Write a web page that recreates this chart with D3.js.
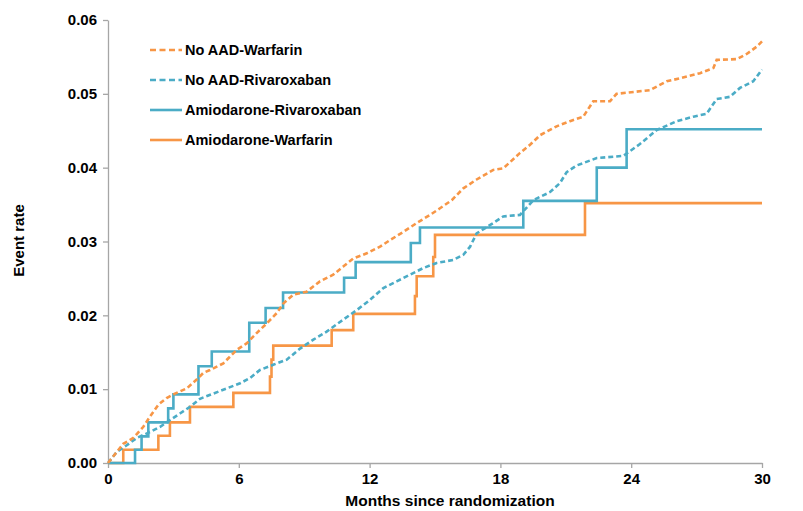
<!DOCTYPE html>
<html>
<head>
<meta charset="utf-8">
<script src="https://cdn.jsdelivr.net/npm/d3@7"></script>
<style>
  body { margin: 0; background: white; }
  text { font-family: "Liberation Sans", Arial, sans-serif; font-weight: bold; }
</style>
</head>
<body>
<div id="viz-container"></div>
<script>
// tick labels
let xTicks = [0, 6, 12, 18, 24, 30];
let yTicks = [0, 0.01, 0.02, 0.03, 0.04, 0.05, 0.06];

// series names (legend order)
let seriesNames = ["No AAD-Warfarin", "No AAD-Rivaroxaban", "Amiodarone-Rivaroxaban", "Amiodarone-Warfarin"];

// No AAD-Warfarin
let noAadWarfMonths = [0, 0.70, 1.16, 1.62, 1.93, 2.31, 2.69, 3.07, 3.61, 4.07, 4.37, 4.68, 5.29, 5.90, 6.36, 6.82, 7.28, 7.74, 8.04, 8.50, 9.11, 9.72, 10.33, 10.79, 11.25, 11.87, 12.48, 12.94, 13.55, 14.16, 14.77, 15.23, 15.77, 16.30, 16.91, 17.67, 18.13, 18.90, 19.36, 19.82, 20.58, 21.19, 21.80, 22.26, 23.03, 23.33, 24.25, 24.86, 25.63, 26.24, 27.16, 27.77, 27.92, 28.84, 29.30, 29.76, 30];
let noAadWarfRates = [0, 0.0026, 0.0034, 0.0049, 0.0063, 0.0079, 0.0088, 0.0094, 0.0101, 0.0113, 0.0122, 0.0126, 0.0135, 0.0153, 0.0162, 0.0176, 0.0189, 0.0203, 0.0216, 0.0228, 0.0232, 0.0246, 0.0255, 0.0266, 0.0277, 0.0284, 0.0293, 0.0302, 0.0313, 0.0325, 0.0336, 0.0345, 0.0356, 0.0372, 0.0384, 0.0397, 0.0399, 0.0420, 0.0431, 0.0444, 0.0456, 0.0463, 0.0469, 0.0490, 0.0490, 0.0500, 0.0503, 0.0505, 0.0517, 0.0521, 0.0528, 0.0535, 0.0546, 0.0547, 0.0554, 0.0564, 0.0571];

// No AAD-Rivaroxaban
let noAadRivMonths = [0, 0.06, 0.40, 0.86, 1.32, 1.93, 2.39, 2.84, 3.30, 3.76, 4.22, 4.83, 5.44, 6.06, 6.51, 6.97, 7.58, 8.20, 8.81, 9.42, 10.03, 10.64, 11.41, 12.02, 12.63, 13.24, 13.85, 14.46, 15.08, 15.84, 16.30, 16.61, 16.91, 17.67, 18.13, 18.90, 19.51, 20.28, 20.73, 21.04, 21.50, 22.42, 23.64, 24.40, 25.17, 26.09, 26.85, 27.46, 27.92, 28.53, 28.99, 29.60, 30];
let noAadRivRates = [0, 0.0002, 0.0015, 0.0024, 0.0034, 0.0042, 0.0049, 0.0058, 0.0067, 0.0076, 0.0087, 0.0094, 0.0101, 0.0108, 0.0115, 0.0126, 0.0133, 0.0140, 0.0155, 0.0167, 0.0178, 0.0191, 0.0207, 0.0221, 0.0237, 0.0246, 0.0255, 0.0264, 0.0271, 0.0275, 0.0282, 0.0293, 0.0311, 0.0325, 0.0334, 0.0336, 0.0356, 0.0367, 0.0379, 0.0394, 0.0403, 0.0413, 0.0416, 0.0432, 0.0451, 0.0463, 0.0469, 0.0473, 0.0493, 0.0496, 0.0508, 0.0517, 0.0533];

// Amiodarone-Rivaroxaban (step)
let amioRivMonths = [0, 1.24, 1.54, 1.85, 2.76, 3.00, 4.15, 4.76, 6.48, 7.23, 8.03, 10.83, 11.36, 13.89, 14.31, 19.05, 22.42, 23.79, 30];
let amioRivRates = [0, 0.0018, 0.0036, 0.0055, 0.0074, 0.0093, 0.0131, 0.0151, 0.0190, 0.0210, 0.0231, 0.0251, 0.0272, 0.0298, 0.0319, 0.0355, 0.0400, 0.0452, 0.0452];

// Amiodarone-Warfarin (step)
let amioWarfMonths = [0, 0.70, 2.31, 2.84, 3.76, 5.75, 7.43, 7.50, 7.58, 10.26, 11.25, 14.08, 14.16, 14.92, 15.00, 21.88, 30];
let amioWarfRates = [0, 0.0018, 0.0037, 0.0055, 0.0076, 0.0095, 0.0117, 0.0140, 0.0159, 0.0180, 0.0202, 0.0226, 0.0253, 0.0279, 0.0309, 0.0352, 0.0352];

let orange = "#F79646";
let blue = "#4BACC6";

let w = 803;
let h = 511;
let margin = {top: 20, right: 41, bottom: 48, left: 108};

let viz = d3.select("#viz-container")
                .append("svg")
                    .attr("id", "viz")
                    .attr("width", w)
                    .attr("height", h)
                    .style("background-color", "white")
;

let xScale = d3.scaleLinear().domain([0, 30]).range([margin.left, w - margin.right]);
let yScale = d3.scaleLinear().domain([0, 0.06]).range([h - margin.bottom, margin.top]);

// axes
let xAxis = d3.axisBottom(xScale).tickValues(xTicks).tickSize(5).tickSizeOuter(0).tickPadding(5);
let yAxis = d3.axisLeft(yScale).tickValues(yTicks).tickSize(5).tickSizeOuter(0).tickPadding(6)
                .tickFormat(d3.format(".2f"));

let xGroup = viz.append("g")
                .attr("transform", "translate(0," + (h - margin.bottom) + ")")
                .call(xAxis)
;
let yGroup = viz.append("g")
                .attr("transform", "translate(" + margin.left + ",0)")
                .call(yAxis)
;
viz.selectAll(".domain, .tick line").attr("stroke", "#A6A6A6").attr("stroke-width", 1.3);
viz.selectAll(".tick text")
        .attr("fill", "black")
        .style("font-size", "15px")
        .style("font-family", "'Liberation Sans', Arial, sans-serif")
        .style("font-weight", "bold")
;

// axis titles
viz.append("text")
        .text("Months since randomization")
        .attr("x", 450)
        .attr("y", 506)
        .attr("text-anchor", "middle")
        .style("font-size", "15.5px")
;
viz.append("text")
        .text("Event rate")
        .attr("transform", "translate(24," + (yScale(0.03) - 1) + ") rotate(-90)")
        .attr("text-anchor", "middle")
        .style("font-size", "15px")
;

function zipData(months, rates){
    return months.map(function(m, i){ return {m: m, r: rates[i]}; });
}

let series = [
    {name: seriesNames[0], data: zipData(noAadWarfMonths, noAadWarfRates), color: orange, dash: "5,3", step: false},
    {name: seriesNames[1], data: zipData(noAadRivMonths, noAadRivRates), color: blue, dash: "5,3", step: false},
    {name: seriesNames[2], data: zipData(amioRivMonths, amioRivRates), color: blue, dash: null, step: true},
    {name: seriesNames[3], data: zipData(amioWarfMonths, amioWarfRates), color: orange, dash: null, step: true}
];

let lineLinear = d3.line().x(d => xScale(d.m)).y(d => yScale(d.r));
let lineStep = d3.line().x(d => xScale(d.m)).y(d => yScale(d.r)).curve(d3.curveStepAfter);

// draw in reverse so dashed are on top of solid
viz.selectAll(".series").data(series.slice().reverse()).enter().append("path")
        .attr("class", "series")
        .attr("d", d => d.step ? lineStep(d.data) : lineLinear(d.data))
        .attr("fill", "none")
        .attr("stroke", d => d.color)
        .attr("stroke-width", 2.6)
        .attr("stroke-dasharray", d => d.dash)
;

// legend
let legend = viz.selectAll(".legendItem").data(series).enter().append("g")
                    .attr("class", "legendItem")
                    .attr("transform", (d, i) => "translate(150," + (50 + i * 30) + ")")
;
legend.append("line")
        .attr("x1", 0)
        .attr("x2", 32)
        .attr("y1", 0)
        .attr("y2", 0)
        .attr("stroke", d => d.color)
        .attr("stroke-width", 2.6)
        .attr("stroke-dasharray", d => d.dash ? "6,3.5" : null)
;
legend.append("text")
        .text(d => d.name)
        .attr("x", 35)
        .attr("y", 5)
        .style("font-size", "14.5px")
;
</script>
</body>
</html>
